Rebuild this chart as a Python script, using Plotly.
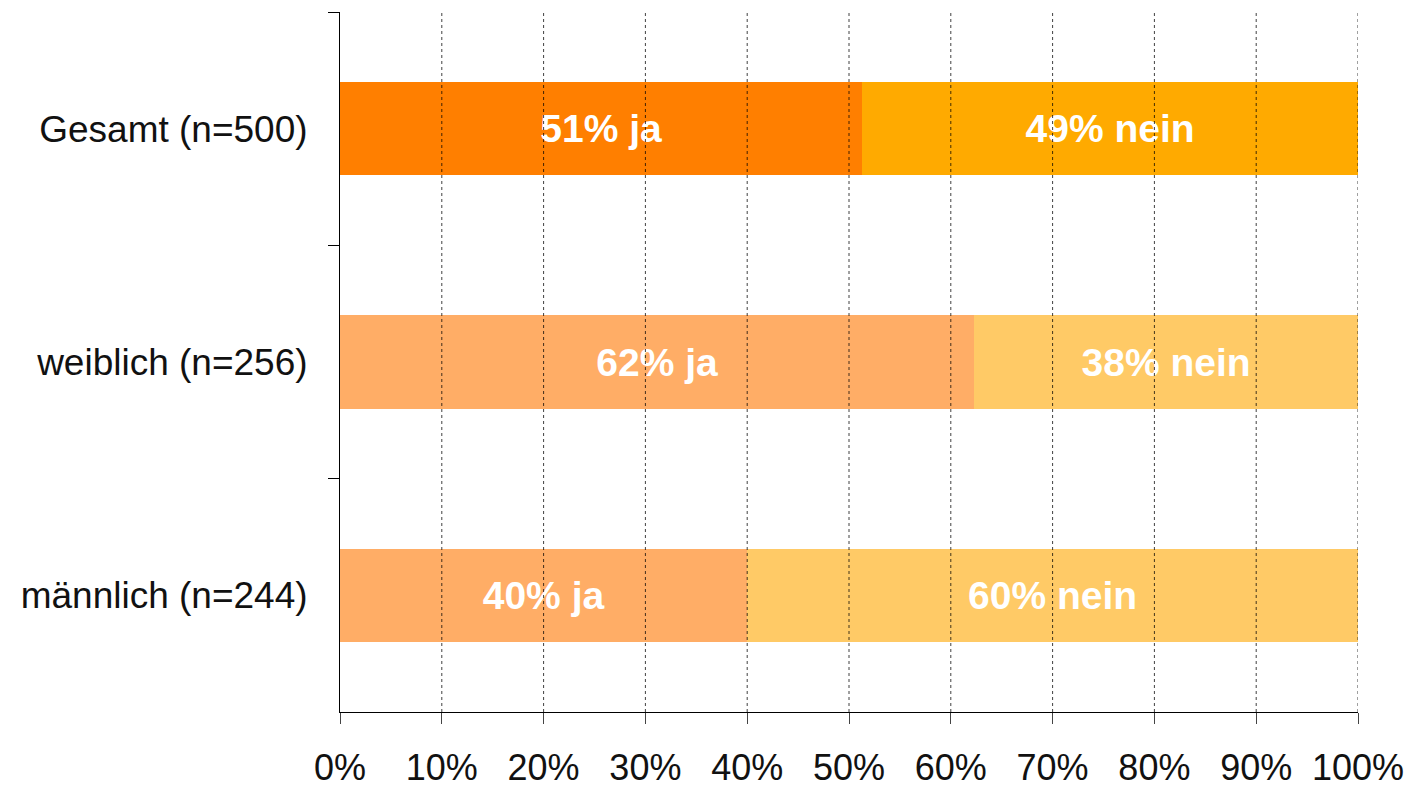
import plotly.graph_objects as go

categories = ["Gesamt (n=500)", "weiblich (n=256)", "männlich (n=244)"]
ja_values = [51.3, 62.3, 40.0]
nein_values = [48.7, 37.7, 60.0]
ja_labels = ["51% ja", "62% ja", "40% ja"]
nein_labels = ["49% nein", "38% nein", "60% nein"]
ja_colors = ["#FF7F00", "#FFAD66", "#FFAD66"]
nein_colors = ["#FFAA00", "#FFCA66", "#FFCA66"]
tick_vals = [0, 10, 20, 30, 40, 50, 60, 70, 80, 90, 100]
tick_text = [f"{v}%" for v in tick_vals]

FONT = "Liberation Sans, Arial, sans-serif"

fig = go.Figure()
fig.add_trace(go.Bar(
    y=categories, x=ja_values, orientation="h", name="ja",
    marker=dict(color=ja_colors, line=dict(width=0)),
    text=ja_labels,
    textposition="inside", insidetextanchor="middle",
    textfont=dict(family=FONT, size=39, color="white", weight="bold"),
))
fig.add_trace(go.Bar(
    y=categories, x=nein_values, orientation="h", name="nein",
    marker=dict(color=nein_colors, line=dict(width=0)),
    text=nein_labels,
    textposition="inside", insidetextanchor="middle",
    textfont=dict(family=FONT, size=39, color="white", weight="bold"),
))

for v in tick_vals[1:]:
    fig.add_shape(type="line", xref="x", yref="paper", x0=v, x1=v, y0=0, y1=1,
                  line=dict(color="rgba(0,0,0,0.75)", width=1, dash="dot"), layer="above")

# page body has an 8px margin, so the figure's own margins are offset by it
fig.update_layout(
    barmode="stack",
    bargap=0.6,
    showlegend=False,
    width=1412, height=787,
    margin=dict(l=332, r=62, t=4, b=83, pad=0),
    plot_bgcolor="white", paper_bgcolor="white",
    font=dict(family=FONT, size=37, color="#111111"),
)
fig.update_xaxes(
    range=[0, 100], tickvals=tick_vals, ticktext=tick_text,
    showgrid=False, zeroline=False, automargin=False,
    showline=True, linecolor="black", linewidth=1,
    ticks="outside", ticklen=11, tickcolor="#444444", tickwidth=1,
    ticklabelstandoff=13,
    tickfont=dict(size=36),
)
fig.update_yaxes(
    categoryorder="array", categoryarray=categories, autorange="reversed",
    showgrid=False, zeroline=False, automargin=False,
    showline=True, linecolor="black", linewidth=1,
    ticks="outside", ticklen=11, tickcolor="black", tickson="boundaries",
    ticklabelstandoff=24,
    tickfont=dict(size=37),
)

fig.write_html("out.html")
